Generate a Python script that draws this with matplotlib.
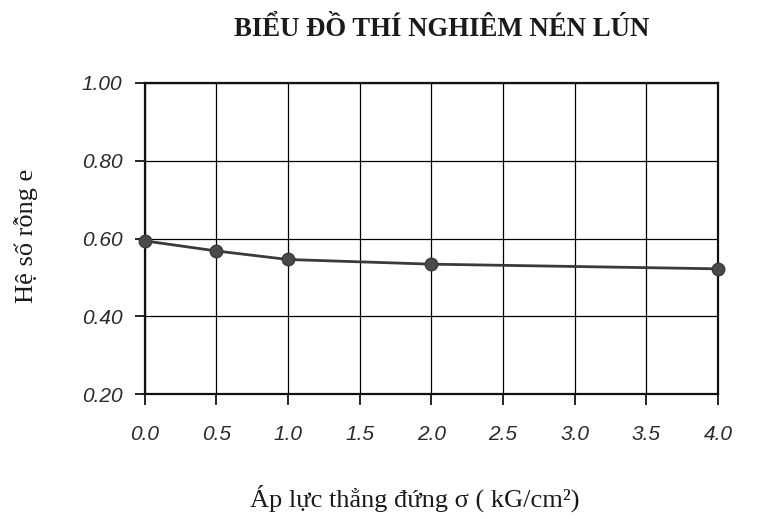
import matplotlib
matplotlib.use("Agg")
import matplotlib.pyplot as plt
from matplotlib.ticker import FixedLocator

# Consolidation test: void ratio vs vertical pressure
pressure = [0.0, 0.5, 1.0, 2.0, 4.0]
void_ratio = [0.594, 0.568, 0.546, 0.534, 0.522]

x_ticks = [0.0, 0.5, 1.0, 1.5, 2.0, 2.5, 3.0, 3.5, 4.0]
x_tick_labels = ["0.0", "0.5", "1.0", "1.5", "2.0", "2.5", "3.0", "3.5", "4.0"]
y_ticks = [0.20, 0.40, 0.60, 0.80, 1.00]
y_tick_labels = ["0.20", "0.40", "0.60", "0.80", "1.00"]

title = "BIỂU ĐỒ THÍ NGHIÊM NÉN LÚN"
x_label = "Áp lực thẳng đứng σ ( kG/cm²)"
y_label = "Hệ số rỗng e"

fig = plt.figure(figsize=(7.62, 5.19), dpi=100)
ax = fig.add_axes([144.5 / 762, 1 - 394 / 519, (718 - 144.5) / 762, (394 - 83) / 519])

ax.plot(pressure, void_ratio, color="#3a3a3a", linewidth=2.0, zorder=3,
        marker="o", markersize=9, markerfacecolor="#4a4a4a",
        markeredgecolor="#3a3a3a", clip_on=False)

ax.set_xlim(0, 4)
ax.set_ylim(0.2, 1.0)
ax.xaxis.set_major_locator(FixedLocator(x_ticks))
ax.yaxis.set_major_locator(FixedLocator(y_ticks))
ax.set_xticklabels(x_tick_labels)
ax.set_yticklabels(y_tick_labels)

ax.grid(True, color="black", linewidth=0.9)
ax.set_axisbelow(True)
for s in ax.spines.values():
    s.set_linewidth(1.6)
    s.set_color("#111111")

for lab in ax.get_xticklabels() + ax.get_yticklabels():
    lab.set_fontfamily("Liberation Sans")
    lab.set_fontstyle("italic")
    lab.set_fontsize(15)
    lab.set_color("#2a2a2a")
ax.tick_params(axis="x", direction="out", length=8, width=1.2, pad=14)
ax.tick_params(axis="y", direction="out", length=7, width=1.2, pad=9)

fig.text(442 / 762, 1 - 29 / 519, title, ha="center", va="center",
         family="Liberation Serif", weight="bold", size=19.3, color="#1a1a1a")
fig.text(415 / 762, 1 - 498 / 519, x_label, ha="center", va="center",
         family="Liberation Serif", size=19, color="#1a1a1a")
fig.text(26 / 762, 1 - 236 / 519, y_label, ha="center", va="center",
         rotation=90, family="Liberation Serif", size=19, color="#1a1a1a")

fig.savefig("out.png", dpi=100)
